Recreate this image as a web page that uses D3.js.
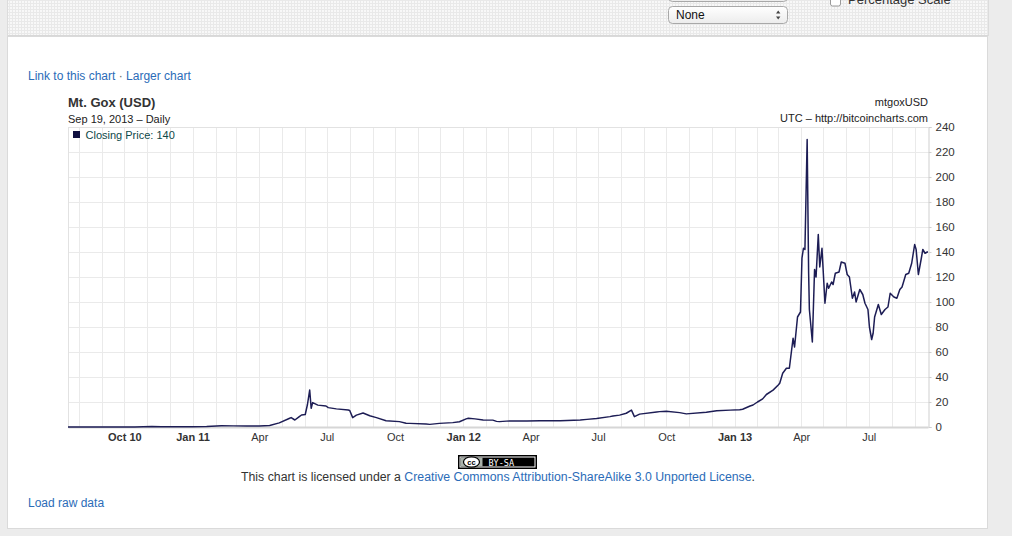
<!DOCTYPE html>
<html><head><meta charset="utf-8">
<script src="https://cdn.jsdelivr.net/npm/d3@7"></script>
<style>
html,body{margin:0;padding:0;background:#ececec;overflow:hidden;}
svg{display:block;font-family:"Liberation Sans",Arial,Helvetica,sans-serif;}
</style></head>
<body>
<svg id="c" width="1012" height="536"></svg>
<script>
// ---- data ----
const dates = [
"2010-07-17","2010-08-15","2010-09-15","2010-10-15","2010-11-07","2010-11-20","2010-12-15",
"2011-01-01","2011-01-20","2011-02-09","2011-02-25","2011-03-15","2011-04-01","2011-04-15",
"2011-04-28","2011-05-12","2011-05-14","2011-05-19","2011-05-25","2011-05-28","2011-06-02",
"2011-06-05","2011-06-08","2011-06-10","2011-06-12","2011-06-19","2011-06-30","2011-07-03",
"2011-07-14","2011-07-30","2011-08-01","2011-08-05","2011-08-10","2011-08-19","2011-08-28",
"2011-09-06","2011-09-19","2011-10-07","2011-10-16","2011-10-21","2011-11-12","2011-11-17",
"2011-11-30","2011-12-18","2011-12-27",
"2012-01-05","2012-01-08","2012-01-17","2012-01-28","2012-02-10","2012-02-15","2012-02-19",
"2012-03-04","2012-03-27","2012-04-14","2012-05-11","2012-06-07","2012-06-16","2012-06-29",
"2012-07-17","2012-07-21","2012-07-30","2012-08-08","2012-08-15","2012-08-19","2012-08-26",
"2012-09-18","2012-09-22","2012-10-01","2012-10-19","2012-10-28","2012-11-24","2012-12-08",
"2012-12-26",
"2013-01-08","2013-01-12","2013-01-22","2013-01-26","2013-02-01","2013-02-08","2013-02-13",
"2013-02-22","2013-03-01","2013-03-03","2013-03-07","2013-03-12","2013-03-16","2013-03-21",
"2013-03-23","2013-03-27","2013-03-31","2013-04-02","2013-04-04","2013-04-06","2013-04-09",
"2013-04-11","2013-04-12","2013-04-16","2013-04-19","2013-04-21","2013-04-24","2013-04-26",
"2013-04-29","2013-05-03","2013-05-06","2013-05-08","2013-05-12","2013-05-14","2013-05-17",
"2013-05-22","2013-05-25","2013-05-30","2013-06-02","2013-06-05","2013-06-09","2013-06-12",
"2013-06-14","2013-06-19","2013-06-23","2013-06-26","2013-06-30","2013-07-02","2013-07-05",
"2013-07-07","2013-07-09","2013-07-14","2013-07-18","2013-07-23","2013-07-27","2013-07-30",
"2013-08-04","2013-08-08","2013-08-12","2013-08-15","2013-08-20","2013-08-24","2013-08-28",
"2013-09-01","2013-09-03","2013-09-06","2013-09-10","2013-09-12","2013-09-15","2013-09-18",
"2013-09-19"
];
const closes = [
0.05,0.07,0.06,0.10,0.35,0.28,0.24,
0.30,0.40,1.05,0.90,0.85,0.78,1.2,
3.3,7,7.5,5.6,8.3,9.6,10,
18,29.6,15,19.5,17.5,16.8,15.5,
14.5,13.6,13.2,7.5,9.5,11.2,9,
7.5,5,4.3,3,2.9,2.4,2.1,
2.9,3.5,4.2,
6.5,7,6.5,5.6,5.5,4.5,4.3,
4.9,4.8,5,5,5.6,6.1,6.8,
8.3,8.8,9.5,11,13.5,8.3,10.3,
12,12.3,12.6,11.5,10.5,11.8,13,
13.5,
13.8,14.2,16.8,17.6,20,22.5,26,
29.5,33.6,35,43,47,47,71,
64,88,92,135,143,142,230,
123,94,68,126,120,154,128,
143,99,115,111,116,114,123,
124,132,131,122,120,103,108,
100,110,106,99,94,80,70,
75,88,98,90,94,96,107,
104,103,110,112,122,123,131,
146,142,122,135,142,139,140,
140
];
const yTicks = [0,20,40,60,80,100,120,140,160,180,200,220,240];
const domainStart = "2010-07-17", domainEnd = "2013-09-19";
const titleText = "Mt. Gox (USD)", subText = "Sep 19, 2013 \u2013 Daily";
const symbolText = "mtgoxUSD", sourceText = "UTC \u2013 http://bitcoincharts.com";
const legendText = "Closing Price: 140";

// ---- drawing ----
const svg = d3.select("#c");
const parse = d3.utcParse("%Y-%m-%d");
const data = dates.map((d,i)=>({date:parse(d), close:closes[i]}));

const L=68, R=928, T=127, B=427;
const x = d3.scaleUtc().domain([parse(domainStart), parse(domainEnd)]).range([L,R]);
const y = d3.scaleLinear().domain([0,240]).range([B,T]);

// page background pieces
const defs = svg.append("defs");
const pat = defs.append("pattern").attr("id","grid").attr("width",3).attr("height",3).attr("patternUnits","userSpaceOnUse");
pat.append("rect").attr("width",3).attr("height",3).attr("fill","#f8f8f8");
pat.append("path").attr("d","M0,0.5H3M0.5,0V3").attr("stroke","#e9e9e9").attr("stroke-width",1);

svg.append("rect").attr("x",0).attr("y",0).attr("width",1012).attr("height",536).attr("fill","#ececec");
svg.append("rect").attr("x",7.5).attr("y",0).attr("width",981).attr("height",36).attr("fill","url(#grid)");
svg.append("line").attr("x1",8).attr("x2",988).attr("y1",35.5).attr("y2",35.5).attr("stroke","#d8d8d8");
svg.append("rect").attr("x",7.5).attr("y",36.5).attr("width",980).attr("height",492).attr("fill","#fff").attr("stroke","#dadada");
svg.append("line").attr("x1",7.5).attr("x2",7.5).attr("y1",0).attr("y2",36).attr("stroke","#dcdcdc");
svg.append("line").attr("x1",988.5).attr("x2",988.5).attr("y1",0).attr("y2",36).attr("stroke","#dcdcdc");

// top controls
const selGrad = defs.append("linearGradient").attr("id","sel").attr("x1",0).attr("y1",0).attr("x2",0).attr("y2",1);
selGrad.append("stop").attr("offset","0").attr("stop-color","#ffffff");
selGrad.append("stop").attr("offset","1").attr("stop-color","#ececec");
svg.append("rect").attr("x",668.5).attr("y",-16).attr("width",119).attr("height",17.5).attr("rx",4).attr("fill","url(#sel)").attr("stroke","#a8a8a8");
svg.append("rect").attr("x",668.5).attr("y",6.5).attr("width",119).attr("height",17).attr("rx",4).attr("fill","url(#sel)").attr("stroke","#a8a8a8");
svg.append("text").attr("x",676).attr("y",19).attr("font-size",12).attr("fill","#111").text("None");
svg.append("path").attr("d","M776,13.5l2.2,-3l2.2,3zM776,16.5l2.2,3l2.2,-3z").attr("fill","#444");
svg.append("rect").attr("x",830.5).attr("y",-6).attr("width",10).attr("height",12).attr("rx",2).attr("fill","#fff").attr("stroke","#9a9a9a");
svg.append("text").attr("x",848).attr("y",4).attr("font-size",13).attr("fill","#333").text("Percentage Scale");

// links
const linkCol = "#2b6cb8";
const lk = svg.append("text").attr("x",28).attr("y",79.5).attr("font-size",12).attr("fill",linkCol);
lk.append("tspan").text("Link to this chart");
lk.append("tspan").attr("fill","#666").text(" \u00b7 ");
lk.append("tspan").text("Larger chart");

// headers
svg.append("text").attr("x",L).attr("y",106.5).attr("font-size",13).attr("font-weight","bold").attr("fill","#333").text(titleText);
svg.append("text").attr("x",L).attr("y",123).attr("font-size",11).attr("fill","#222").text(subText);
svg.append("text").attr("x",R).attr("y",106).attr("text-anchor","end").attr("font-size",11).attr("fill","#222").text(symbolText);
svg.append("text").attr("x",R).attr("y",122).attr("text-anchor","end").attr("font-size",11).attr("fill","#222").text(sourceText);

// grid
const g = svg.append("g");
g.selectAll(".hg").data(yTicks).join("line").attr("class","hg")
  .attr("x1",L).attr("x2",R).attr("y1",d=>Math.round(y(d))+0.5).attr("y2",d=>Math.round(y(d))+0.5)
  .attr("stroke","#eaeaea");
const months = d3.utcMonth.range(d3.utcMonth.ceil(x.domain()[0]), x.domain()[1]);
g.selectAll(".vg").data(months).join("line").attr("class","vg")
  .attr("x1",d=>Math.round(x(d))+0.5).attr("x2",d=>Math.round(x(d))+0.5).attr("y1",T).attr("y2",B)
  .attr("stroke","#eaeaea");
g.append("line").attr("x1",L+0.5).attr("x2",L+0.5).attr("y1",T).attr("y2",B).attr("stroke","#e2e2e2");
g.append("line").attr("x1",L).attr("x2",R).attr("y1",T+0.5).attr("y2",T+0.5).attr("stroke","#e2e2e2");

// y axis (right)
const yAxis = d3.axisRight(y).tickValues(yTicks).tickSize(3).tickPadding(4);
const ya = svg.append("g").attr("transform",`translate(${R+0.5},0)`).call(yAxis);
ya.select(".domain").attr("stroke","#cfcfcf");
ya.selectAll(".tick line").attr("stroke","#cfcfcf");
ya.selectAll(".tick text").attr("font-size",11.5).attr("fill","#333").attr("font-family","Liberation Sans, Arial, sans-serif");

// x axis
const qTicks = d3.utcMonth.every(3).range(d3.utcMonth.ceil(x.domain()[0]), x.domain()[1]);
const xAxis = d3.axisBottom(x).tickValues(qTicks).tickSize(0).tickPadding(6)
  .tickFormat((d,i)=> (d.getUTCMonth()===0 || i===0) ? d3.utcFormat("%b %y")(d) : d3.utcFormat("%b")(d));
const xa = svg.append("g").attr("transform",`translate(0,${B})`).call(xAxis);
xa.select(".domain").attr("stroke","#d6d6d6").attr("stroke-width",2);
xa.selectAll(".tick text").attr("font-size",11).attr("fill","#333").attr("font-family","Liberation Sans, Arial, sans-serif")
  .attr("font-weight",(d,i)=> (d.getUTCMonth()===0 || i===0) ? "bold" : "normal");

// line
const line = d3.line().x(d=>x(d.date)).y(d=>y(d.close));
svg.append("path").datum(data).attr("d",line).attr("fill","none").attr("stroke","#1d1d55")
  .attr("stroke-width",1.5).attr("stroke-linejoin","round");

// legend
svg.append("rect").attr("x",73).attr("y",131).attr("width",7).attr("height",7).attr("fill","#101040");
svg.append("text").attr("x",85.5).attr("y",138.5).attr("font-size",11).attr("fill","#0e4848").text(legendText);

// license badge
const bx=458.5, by=455.5;
svg.append("rect").attr("x",bx).attr("y",by).attr("width",78).attr("height",13).attr("fill","#000").attr("stroke","#000");
svg.append("rect").attr("x",bx+1.5).attr("y",by+1.5).attr("width",75).attr("height",10).attr("fill","none").attr("stroke","#fff").attr("stroke-width",1);
svg.append("rect").attr("x",bx+2).attr("y",by+2).attr("width",22).attr("height",9).attr("fill","#aab2ab");
svg.append("ellipse").attr("cx",bx+13).attr("cy",by+6.5).attr("rx",8).attr("ry",5.2).attr("fill","#fff").attr("stroke","#000").attr("stroke-width",1.2);
svg.append("text").attr("x",bx+13).attr("y",by+9.2).attr("text-anchor","middle").attr("font-size",7.5).attr("font-weight","bold").attr("fill","#000").text("cc");
svg.append("text").attr("x",bx+30).attr("y",by+10).attr("font-size",8.5).attr("font-family","DejaVu Sans Mono, monospace").attr("fill","#fff").text("BY-SA");

const lic = svg.append("text").attr("x",498).attr("y",481).attr("text-anchor","middle").attr("font-size",12.3).attr("fill","#333");
lic.append("tspan").text("This chart is licensed under a ");
lic.append("tspan").attr("fill",linkCol).text("Creative Commons Attribution-ShareAlike 3.0 Unported License");
lic.append("tspan").text(".");

svg.append("text").attr("x",28).attr("y",507).attr("font-size",12).attr("fill",linkCol).text("Load raw data");
</script>
</body></html>
